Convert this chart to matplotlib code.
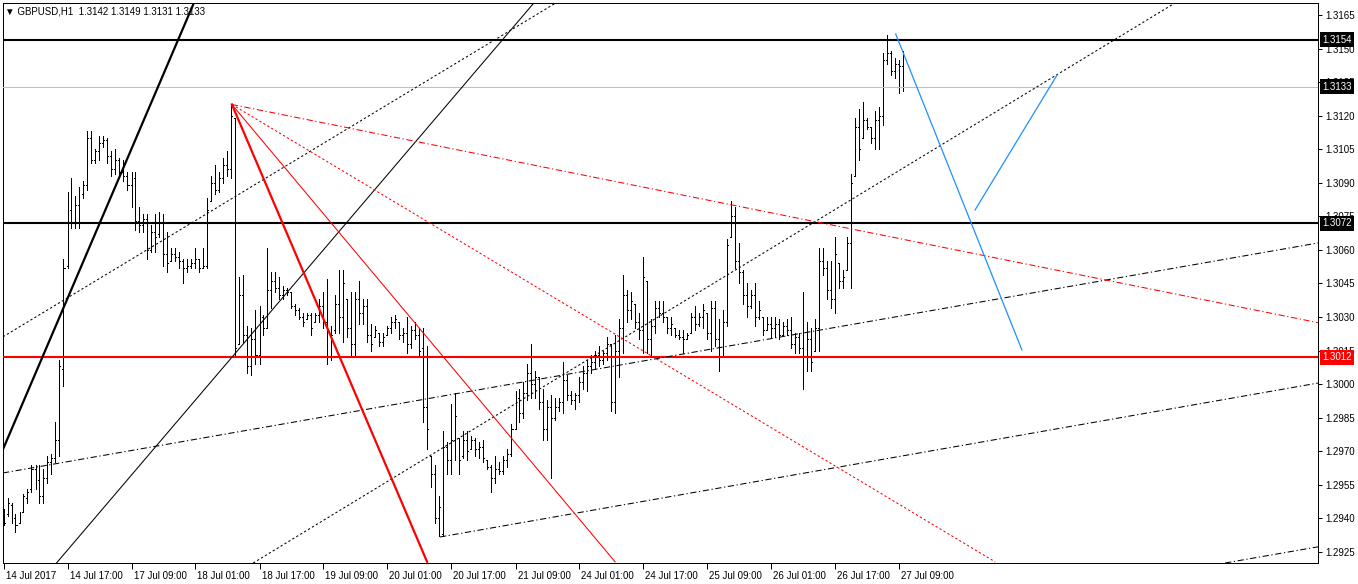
import numpy as np
import matplotlib
matplotlib.use('Agg')
import matplotlib.pyplot as plt
import matplotlib.transforms as mtransforms

plt.rcParams['font.family'] = ['Liberation Sans', 'DejaVu Sans']

# GBPUSD H1 bars, bar 0 = 14 Jul 2017 01:00
opens = [
    1.2940, 1.2942, 1.2946, 1.2940, 1.2938, 1.2943, 1.2949, 1.2953, 1.2962, 1.2957,
    1.2950, 1.2958, 1.2965, 1.2967, 1.2975, 1.3007, 1.3053, 1.3078, 1.3072, 1.3080,
    1.3085, 1.3089, 1.3110, 1.3100, 1.3104, 1.3108, 1.3109, 1.3102, 1.3096, 1.3100,
    1.3095, 1.3093, 1.3089, 1.3092, 1.3073, 1.3071, 1.3074, 1.3060, 1.3068, 1.3067,
    1.3072, 1.3058, 1.3055, 1.3058, 1.3057,
    1.3055, 1.3052, 1.3053, 1.3054, 1.3056, 1.3052, 1.3053, 1.3082, 1.3090, 1.3087,
    1.3092, 1.3098, 1.3096, 1.3119, 1.3018, 1.3040, 1.3022, 1.3008, 1.3020, 1.3013,
    1.3030, 1.3025, 1.3042, 1.3046, 1.3043, 1.3040, 1.3042, 1.3041, 1.3035, 1.3033,
    1.3030, 1.3029, 1.3031, 1.3028, 1.3031, 1.3035, 1.3028, 1.3012, 1.3024, 1.3036,
    1.3030, 1.3038, 1.3025, 1.3018, 1.3038,
    1.3032, 1.3035, 1.3022, 1.3021, 1.3023, 1.3019, 1.3022, 1.3025, 1.3028, 1.3028,
    1.3022, 1.3023, 1.3018, 1.3024, 1.3022, 1.3016, 1.2990, 1.2968, 1.2960, 1.2940,
    1.2933, 1.2972, 1.2966, 1.2975, 1.2976, 1.2968, 1.2975, 1.2971, 1.2975, 1.2971,
    1.2972, 1.2966, 1.2963, 1.2958, 1.2962, 1.2961, 1.2966, 1.2969, 1.2980, 1.2994,
    1.2987, 1.2996, 1.3005, 1.3000, 1.3003,
    1.2992, 1.2980, 1.2990, 1.2985, 1.2990, 1.2992, 1.3002, 1.2995, 1.2993, 1.2995,
    1.3001, 1.3005, 1.3008, 1.3010, 1.3013, 1.3011, 1.3014, 1.3018, 1.2992, 1.3015,
    1.3025, 1.3040, 1.3033, 1.3036, 1.3028, 1.3024, 1.3046, 1.3020, 1.3026, 1.3034,
    1.3032, 1.3030, 1.3025, 1.3025, 1.3022, 1.3021, 1.3020, 1.3023, 1.3030, 1.3027,
    1.3030, 1.3032, 1.3023, 1.3034, 1.3020,
    1.3012, 1.3028, 1.3066, 1.3075, 1.3055, 1.3050, 1.3040, 1.3035, 1.3040, 1.3030,
    1.3030, 1.3024, 1.3027, 1.3025, 1.3027, 1.3022, 1.3026, 1.3024, 1.3018, 1.3021,
    1.3016, 1.3012, 1.3020, 1.3015, 1.3025, 1.3055, 1.3052, 1.3042, 1.3038, 1.3054,
    1.3046, 1.3051, 1.3063, 1.3093, 1.3115, 1.3110, 1.3118, 1.3115, 1.3110, 1.3118,
    1.3120, 1.3145, 1.3148, 1.3140, 1.3143, 1.3142,
]
highs = [
    1.2944, 1.2949, 1.2947, 1.2942, 1.2943, 1.2951, 1.2953, 1.2964, 1.2964, 1.2964,
    1.2962, 1.2968, 1.2969, 1.2983, 1.3011, 1.3056, 1.3086, 1.3092, 1.3084, 1.3088,
    1.3091, 1.3113, 1.3113, 1.3105, 1.3111, 1.3111, 1.3110, 1.3104, 1.3105, 1.3101,
    1.3100, 1.3095, 1.3095, 1.3095, 1.3079, 1.3076, 1.3076, 1.3071, 1.3076, 1.3077,
    1.3076, 1.3068, 1.3061, 1.3061, 1.3059,
    1.3056, 1.3056, 1.3056, 1.3061, 1.3056, 1.3061, 1.3083, 1.3093, 1.3098, 1.3095,
    1.3101, 1.3104, 1.3125, 1.3119, 1.3048, 1.3049, 1.3026, 1.3025, 1.3033, 1.3035,
    1.3031, 1.3061, 1.3050, 1.3050, 1.3048, 1.3044, 1.3043, 1.3041, 1.3036, 1.3034,
    1.3032, 1.3032, 1.3032, 1.3032, 1.3038, 1.3041, 1.3047, 1.3026, 1.3040, 1.3051,
    1.3051, 1.3038, 1.3041, 1.3041, 1.3046,
    1.3038, 1.3038, 1.3027, 1.3026, 1.3023, 1.3023, 1.3026, 1.3030, 1.3031, 1.3028,
    1.3025, 1.3030, 1.3026, 1.3028, 1.3025, 1.3025, 1.3017, 1.2968, 1.2964, 1.2950,
    1.2979, 1.2974, 1.2991, 1.2996, 1.2976, 1.2979, 1.2979, 1.2977, 1.2976, 1.2974,
    1.2975, 1.2966, 1.2964, 1.2968, 1.2965, 1.2968, 1.2971, 1.2982, 1.2997, 1.2998,
    1.3001, 1.3009, 1.3018, 1.3006, 1.3003,
    1.2998, 1.2993, 1.2995, 1.2994, 1.2994, 1.3010, 1.3004, 1.2997, 1.2996, 1.3003,
    1.3008, 1.3011, 1.3013, 1.3015, 1.3017, 1.3015, 1.3021, 1.3018, 1.3022, 1.3029,
    1.3049, 1.3042, 1.3041, 1.3036, 1.3032, 1.3057, 1.3046, 1.3029, 1.3037, 1.3037,
    1.3037, 1.3030, 1.3030, 1.3025, 1.3024, 1.3024, 1.3023, 1.3032, 1.3035, 1.3032,
    1.3036, 1.3032, 1.3037, 1.3037, 1.3029,
    1.3033, 1.3065, 1.3082, 1.3079, 1.3063, 1.3051, 1.3045, 1.3042, 1.3045, 1.3037,
    1.3030, 1.3030, 1.3030, 1.3030, 1.3029, 1.3028, 1.3029, 1.3030, 1.3023, 1.3023,
    1.3041, 1.3028, 1.3025, 1.3029, 1.3061, 1.3061, 1.3055, 1.3055, 1.3066, 1.3054,
    1.3051, 1.3066, 1.3094, 1.3119, 1.3123, 1.3126, 1.3119, 1.3115, 1.3122, 1.3124,
    1.3148, 1.3156, 1.3149, 1.3146, 1.3145, 1.3149,
]
lows = [
    1.2937, 1.2941, 1.2938, 1.2934, 1.2938, 1.2943, 1.2947, 1.2952, 1.2953, 1.2947,
    1.2947, 1.2956, 1.2960, 1.2965, 1.2968, 1.2999, 1.3052, 1.3070, 1.3070, 1.3070,
    1.3083, 1.3087, 1.3099, 1.3099, 1.3100, 1.3106, 1.3099, 1.3093, 1.3094, 1.3093,
    1.3091, 1.3087, 1.3079, 1.3069, 1.3068, 1.3068, 1.3056, 1.3059, 1.3059, 1.3066,
    1.3053, 1.3050, 1.3055, 1.3055, 1.3052,
    1.3045, 1.3050, 1.3052, 1.3052, 1.3050, 1.3052, 1.3052, 1.3082, 1.3085, 1.3086,
    1.3090, 1.3093, 1.3092, 1.3012, 1.3018, 1.3019, 1.3005, 1.3004, 1.3009, 1.3009,
    1.3022, 1.3025, 1.3034, 1.3041, 1.3038, 1.3038, 1.3040, 1.3034, 1.3031, 1.3029,
    1.3026, 1.3029, 1.3022, 1.3028, 1.3028, 1.3025, 1.3009, 1.3011, 1.3023, 1.3023,
    1.3019, 1.3021, 1.3013, 1.3012, 1.3027,
    1.3027, 1.3019, 1.3015, 1.3021, 1.3017, 1.3017, 1.3022, 1.3023, 1.3025, 1.3020,
    1.3019, 1.3014, 1.3016, 1.3020, 1.3013, 1.2983, 1.2971, 1.2954, 1.2938, 1.2932,
    1.2932, 1.2960, 1.2960, 1.2966, 1.2960, 1.2967, 1.2966, 1.2971, 1.2968, 1.2967,
    1.2965, 1.2962, 1.2952, 1.2956, 1.2960, 1.2960, 1.2963, 1.2968, 1.2980, 1.2983,
    1.2985, 1.2993, 1.2994, 1.2994, 1.2989,
    1.2975, 1.2975, 1.2958, 1.2984, 1.2988, 1.2987, 1.2993, 1.2991, 1.2989, 1.2992,
    1.2998, 1.2997, 1.3005, 1.3007, 1.3008, 1.3009, 1.3011, 1.2988, 1.2987, 1.3003,
    1.3014, 1.3028, 1.3029, 1.3025, 1.3020, 1.3014, 1.3014, 1.3012, 1.3023, 1.3030,
    1.3028, 1.3023, 1.3022, 1.3021, 1.3020, 1.3014, 1.3020, 1.3023, 1.3024, 1.3026,
    1.3025, 1.3020, 1.3015, 1.3017, 1.3006,
    1.3012, 1.3026, 1.3066, 1.3052, 1.3045, 1.3036, 1.3030, 1.3034, 1.3026, 1.3029,
    1.3022, 1.3024, 1.3021, 1.3021, 1.3020, 1.3022, 1.3022, 1.3016, 1.3014, 1.3014,
    1.2998, 1.3006, 1.3006, 1.3015, 1.3015, 1.3049, 1.3038, 1.3034, 1.3032, 1.3043,
    1.3043, 1.3051, 1.3043, 1.3093, 1.3100, 1.3110, 1.3114, 1.3108, 1.3105, 1.3105,
    1.3116, 1.3143, 1.3138, 1.3137, 1.3130, 1.3131,
]
closes = [
    1.2938, 1.2947, 1.2940, 1.2937, 1.2942, 1.2950, 1.2952, 1.2962, 1.2956, 1.2950,
    1.2958, 1.2965, 1.2967, 1.2975, 1.3008, 1.3052, 1.3078, 1.3072, 1.3080, 1.3072,
    1.3089, 1.3110, 1.3100, 1.3104, 1.3108, 1.3109, 1.3102, 1.3096, 1.3100, 1.3095,
    1.3093, 1.3089, 1.3092, 1.3073, 1.3071, 1.3074, 1.3060, 1.3068, 1.3066, 1.3072,
    1.3058, 1.3054, 1.3058, 1.3057, 1.3055,
    1.3052, 1.3053, 1.3054, 1.3056, 1.3052, 1.3053, 1.3078, 1.3090, 1.3087, 1.3092,
    1.3098, 1.3096, 1.3120, 1.3016, 1.3040, 1.3022, 1.3008, 1.3020, 1.3013, 1.3030,
    1.3025, 1.3042, 1.3046, 1.3043, 1.3040, 1.3042, 1.3041, 1.3035, 1.3033, 1.3030,
    1.3028, 1.3031, 1.3025, 1.3031, 1.3035, 1.3028, 1.3012, 1.3022, 1.3036, 1.3030,
    1.3045, 1.3025, 1.3018, 1.3038, 1.3032,
    1.3035, 1.3022, 1.3018, 1.3024, 1.3019, 1.3021, 1.3025, 1.3028, 1.3029, 1.3022,
    1.3023, 1.3018, 1.3024, 1.3022, 1.3015, 1.2990, 1.2980, 1.2960, 1.2940, 1.2945,
    1.2972, 1.2966, 1.2975, 1.2986, 1.2966, 1.2975, 1.2970, 1.2975, 1.2971, 1.2972,
    1.2967, 1.2963, 1.2958, 1.2962, 1.2961, 1.2966, 1.2969, 1.2980, 1.2994, 1.2987,
    1.2996, 1.3005, 1.3000, 1.3003, 1.2992,
    1.2980, 1.2990, 1.2985, 1.2990, 1.2992, 1.3002, 1.2995, 1.2993, 1.2995, 1.3001,
    1.3005, 1.3008, 1.3010, 1.3013, 1.3011, 1.3014, 1.3018, 1.2992, 1.3015, 1.3025,
    1.3040, 1.3033, 1.3037, 1.3028, 1.3024, 1.3048, 1.3020, 1.3026, 1.3034, 1.3032,
    1.3030, 1.3025, 1.3027, 1.3022, 1.3021, 1.3020, 1.3022, 1.3030, 1.3027, 1.3030,
    1.3033, 1.3023, 1.3034, 1.3020, 1.3012,
    1.3028, 1.3062, 1.3075, 1.3055, 1.3050, 1.3040, 1.3035, 1.3040, 1.3030, 1.3033,
    1.3024, 1.3027, 1.3025, 1.3027, 1.3022, 1.3026, 1.3024, 1.3018, 1.3021, 1.3016,
    1.3012, 1.3020, 1.3010, 1.3025, 1.3055, 1.3052, 1.3042, 1.3038, 1.3058, 1.3046,
    1.3048, 1.3063, 1.3090, 1.3115, 1.3105, 1.3118, 1.3115, 1.3110, 1.3118, 1.3120,
    1.3145, 1.3148, 1.3140, 1.3143, 1.3142, 1.3133,
]

time_labels = ['14 Jul 2017', '14 Jul 17:00', '17 Jul 09:00', '18 Jul 01:00', '18 Jul 17:00',
               '19 Jul 09:00', '20 Jul 01:00', '20 Jul 17:00', '21 Jul 09:00', '24 Jul 01:00',
               '24 Jul 17:00', '25 Jul 09:00', '26 Jul 01:00', '26 Jul 17:00', '27 Jul 09:00']
price_ticks = [1.2925, 1.2940, 1.2955, 1.2970, 1.2985, 1.3000, 1.3015, 1.3030, 1.3045,
               1.3060, 1.3075, 1.3090, 1.3105, 1.3120, 1.3135, 1.3150, 1.3165]

# horizontal levels: (price, colour, width, box colour, text colour)
levels = [(1.3154, 'black', 1.5, 'black', 'white'),
          (1.3133, '#C0C0C0', 0.75, 'black', 'white'),
          (1.3072, 'black', 1.5, 'black', 'white'),
          (1.3012, 'red', 1.5, 'red', 'white')]

# trend lines (bar index, price)
thick_trend = [(-0.2, 1.29706), (47.6, 1.31704)]
thin_trend = [(13.5, 1.29206), (132.6, 1.31704)]
dot_upper = [(-0.2, 1.30211), (138.1, 1.31704)]
dot_lower = [(62.9, 1.29206), (292.9, 1.31704)]
dashdot_a = [(-0.2, 1.29603), (328.6, 1.30631)]
dashdot_b = [(109.1, 1.29317), (328.6, 1.30005)]
dashdot_c = [(220.0, 1.28935), (328.6, 1.29273)]

fan_origin = (57.1, 1.31250)
fan_thick = (105.9, 1.29206)
fan_thin = (152.9, 1.29206)
fan_dot = (247.9, 1.29206)
fan_dashdot = (328.6, 1.30275)

blue_down = [(223.05, 1.31565), (254.6, 1.30153)]
blue_up = [(242.9, 1.30779), (263.4, 1.31382)]

W, H = 1358, 584
fig = plt.figure(figsize=(W / 100, H / 100), dpi=100)
ax = fig.add_axes([3 / W, 1 - 563 / H, 1315 / W, 560 / H])
ax.set_xlim(-0.125, -0.125 + 1315 / 4)
ax.set_ylim(1.292008, 1.317036)

dot = (0, (2.2, 2.2))
dashdot = (0, (6, 2.5, 1.2, 2.5))
px = 0.72  # one pixel in points

# bars: high-low line, open tick left, close tick right
x = np.arange(len(opens))
ax.vlines(x, lows, highs, color='black', lw=px, antialiased=False, zorder=2)
ax.hlines(opens, x - 0.25, x, color='black', lw=px, antialiased=False, zorder=2)
ax.hlines(closes, x, x + 0.25, color='black', lw=px, antialiased=False, zorder=2)

# horizontal lines
for price, col, lw, box, tc in levels:
    ax.axhline(price, color=col, lw=lw, zorder=3)

# lines
ax.axline(*thick_trend, color='black', lw=1.6, zorder=3)
ax.axline(*thin_trend, color='black', lw=0.75, zorder=3)
ax.axline(*dot_upper, color='black', lw=0.75, ls=dot, zorder=3)
ax.axline(*dot_lower, color='black', lw=0.75, ls=dot, zorder=3)
ax.axline(*dashdot_a, color='black', lw=0.75, ls=dashdot, zorder=3)
ax.plot(*zip(*dashdot_b), color='black', lw=0.75, ls=dashdot, zorder=3)
ax.axline(*dashdot_c, color='black', lw=0.75, ls=dashdot, zorder=3)

for end, lw, ls in [(fan_thick, 1.6, '-'), (fan_thin, 0.75, '-'),
                    (fan_dot, 0.75, dot), (fan_dashdot, 0.75, dashdot)]:
    ax.plot([fan_origin[0], end[0]], [fan_origin[1], end[1]], color='red', lw=lw, ls=ls, zorder=3)

ax.plot(*zip(*blue_down), color='#1E90FF', lw=0.9, zorder=3)
ax.plot(*zip(*blue_up), color='#1E90FF', lw=0.9, zorder=3)

# axes look
for s in ax.spines.values():
    s.set_linewidth(px)
    s.set_color('black')
ax.yaxis.tick_right()
ax.set_yticks(price_ticks)
ax.set_yticklabels([f'{p:.4f}' for p in price_ticks])
ax.set_xticks(np.arange(len(time_labels)) * 16)
ax.set_xticklabels(time_labels, ha='left')
ax.tick_params(axis='y', direction='out', length=3, width=px, pad=2, labelsize=7)
ax.tick_params(axis='x', direction='out', length=4, width=px, pad=2, labelsize=7)
shift = mtransforms.ScaledTranslation(2 / 100, 0, fig.dpi_scale_trans)
for lab in ax.get_xticklabels():
    lab.set_transform(lab.get_transform() + shift)

# price boxes on the scale
trans = mtransforms.blended_transform_factory(ax.transAxes, ax.transData)
for price, col, lw, box, tc in levels:
    ax.text(1 + 4 / 1315, price, f'{price:.4f}', transform=trans, ha='left', va='center',
            fontsize=7, color=tc, clip_on=False, zorder=10,
            bbox=dict(boxstyle='square,pad=0.25', fc=box, ec='none'))

fig.text(5 / W, 1 - 11 / H, '\u25BC GBPUSD,H1  1.3142 1.3149 1.3131 1.3133',
         fontsize=7, va='center', ha='left')

fig.savefig('out.png', dpi=100)
